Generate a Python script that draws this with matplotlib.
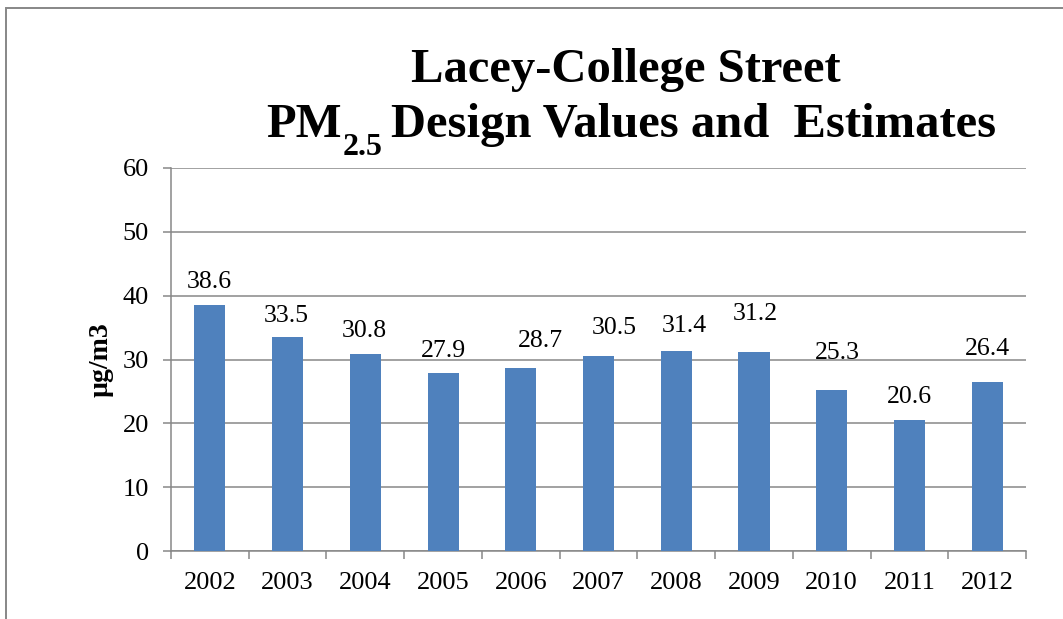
import matplotlib
matplotlib.use("Agg")
import matplotlib.pyplot as plt
from matplotlib.patches import Rectangle
from matplotlib.ticker import FixedLocator

plt.rcParams['font.family'] = ['Liberation Serif', 'DejaVu Serif']

years = ['2002', '2003', '2004', '2005', '2006', '2007', '2008', '2009', '2010', '2011', '2012']
values = [38.6, 33.5, 30.8, 27.9, 28.7, 30.5, 31.4, 31.2, 25.3, 20.6, 26.4]
y_ticks = [0, 10, 20, 30, 40, 50, 60]

# hand-placed data label offsets in pixels (dx, dy from bar top)
label_offsets = [(-1, 17), (-1, 15), (-1, 17), (0, 16), (20, 21), (16, 22),
                 (8, 19), (1, 32), (6, 31), (0, 17), (0, 27)]

GRID = '#878787'
BAR = '#4F81BD'
W, H = 1063, 619


def px(x, y):
    # pixel position (from top-left) -> figure fraction
    return x / W, (H - y) / H


def main():
    fig = plt.figure(figsize=(10.63, 6.19), dpi=100)

    # outer chart frame (only left/top visible in the crop)
    fig.patches.append(Rectangle((6 / W, -0.1), 1.2, (H - 8) / H + 0.1,
                                 transform=fig.transFigure, fill=False,
                                 edgecolor=GRID, linewidth=1.4))

    ax = fig.add_axes([171 / W, 68 / H, 855 / W, 383 / H])
    x = list(range(len(years)))
    ax.bar(x, values, width=0.4, color=BAR, zorder=3)

    ax.set_xlim(-0.5, len(years) - 0.5)
    ax.set_ylim(0, 60)
    ax.set_yticks(y_ticks)
    ax.set_xticks(x)
    ax.set_xticklabels(years)
    ax.xaxis.set_minor_locator(FixedLocator([i - 0.5 for i in range(len(years) + 1)]))

    ax.tick_params(axis='x', which='major', length=0, pad=15, labelsize=19)
    ax.tick_params(axis='x', which='minor', length=6, width=1.1, color=GRID, direction='out')
    ax.tick_params(axis='y', length=6, width=1.1, color=GRID, pad=10, labelsize=19)

    ax.grid(axis='y', color=GRID, linewidth=1.1, zorder=0)
    for side in ['top', 'right']:
        ax.spines[side].set_visible(False)
    for side in ['left', 'bottom']:
        ax.spines[side].set_color(GRID)
        ax.spines[side].set_linewidth(1.1)

    for i, v in enumerate(values):
        dx, dy = label_offsets[i]
        ax.annotate("{:.1f}".format(v), (i, v), xytext=(dx, dy), textcoords='offset pixels',
                    ha='center', va='baseline', fontsize=18.5)

    fig.text(*px(101, 360), 'µg/m3', rotation=90, ha='center', va='center',
             fontsize=20, fontweight='bold')

    # title
    fig.text(*px(626, 82), 'Lacey-College Street', ha='center', va='baseline',
             fontsize=35, fontweight='bold')

    renderer = fig.canvas.get_renderer()
    t1 = fig.text(*px(266, 137), 'PM', ha='left', va='baseline', fontsize=35, fontweight='bold')
    x1 = t1.get_window_extent(renderer).x1
    t2 = fig.text(x1 / W + 1 / W, (H - 155) / H, '2.5', ha='left', va='baseline',
                  fontsize=23, fontweight='bold')
    x2 = t2.get_window_extent(renderer).x1
    fig.text(x2 / W + 9 / W, (H - 137) / H, 'Design Values and  Estimates', ha='left',
             va='baseline', fontsize=35, fontweight='bold')

    fig.savefig('out.png', dpi=100)


if __name__ == "__main__":
    main()
